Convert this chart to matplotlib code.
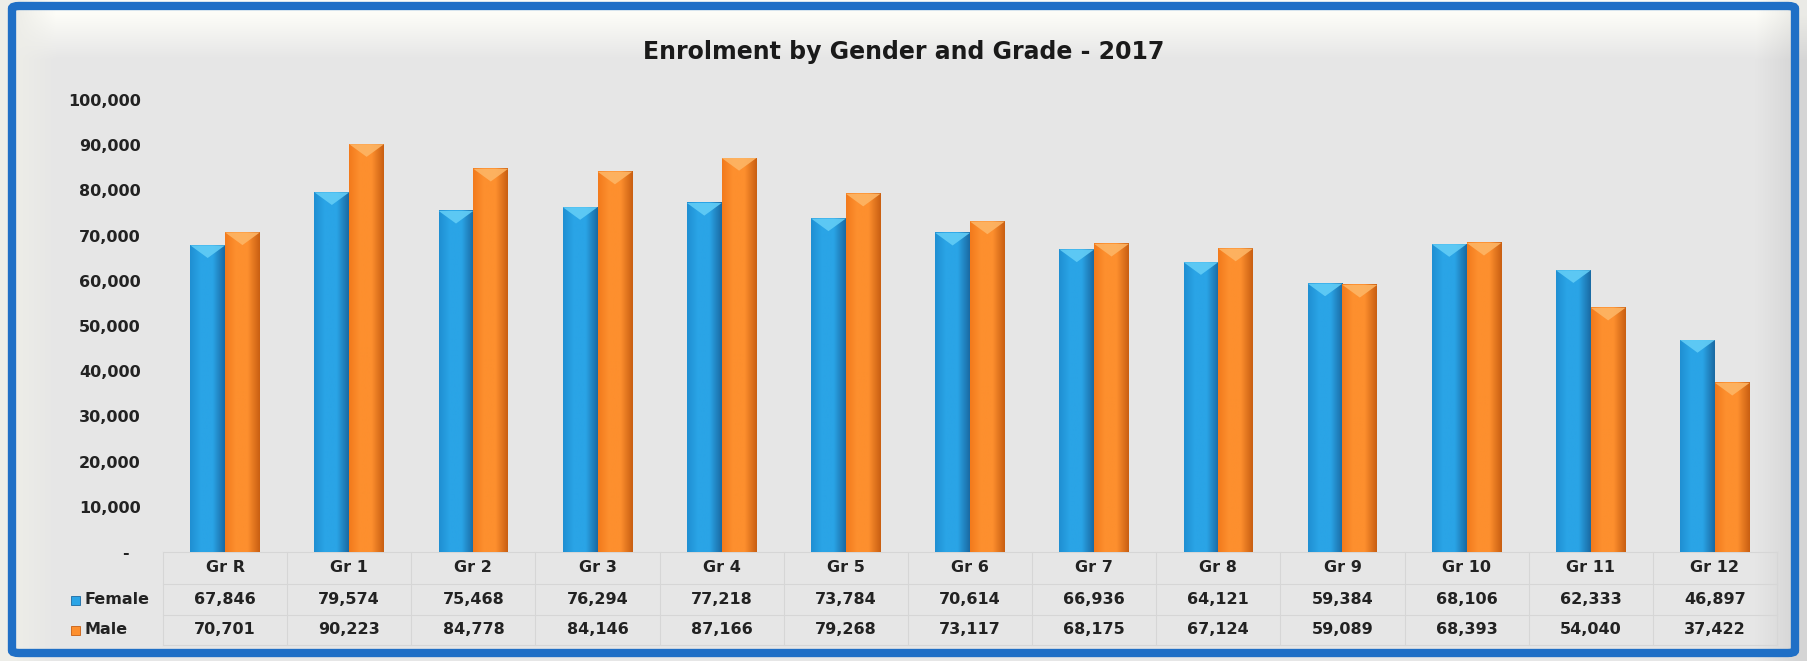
"""Enrolment by gender and grade, 2017: clustered bars with a data table."""

import matplotlib
matplotlib.use("Agg")
import matplotlib.pyplot as plt
import numpy as np
from matplotlib.colors import LinearSegmentedColormap, to_rgb
from matplotlib.patches import FancyBboxPatch, Polygon, Rectangle
from matplotlib.ticker import FuncFormatter

GRADES = ["Gr R", "Gr 1", "Gr 2", "Gr 3", "Gr 4", "Gr 5", "Gr 6",
          "Gr 7", "Gr 8", "Gr 9", "Gr 10", "Gr 11", "Gr 12"]
FEMALE = [67846, 79574, 75468, 76294, 77218, 73784, 70614,
          66936, 64121, 59384, 68106, 62333, 46897]
MALE = [70701, 90223, 84778, 84146, 87166, 79268, 73117,
        68175, 67124, 59089, 68393, 54040, 37422]
SERIES_NAMES = ["Female", "Male"]
TITLE = "Enrolment by Gender and Grade - 2017"

W, H, DPI = 1807, 661, 100
BAR_W = 0.28
FONT = "DejaVu Sans"

# left edge, body, right edge, cap colours for each series
BLUE = ["#1f8fd2", "#2aa4e6", "#1a6aa3", "#62cdf6"]
ORANGE = ["#f27a1c", "#fd8f2e", "#c95f12", "#fdb565"]


def gradient_cmap(colors):
    return LinearSegmentedColormap.from_list(
        "bar", [(0.0, colors[0]), (0.3, colors[1]), (0.65, colors[1]), (1.0, colors[2])])


def background(fig):
    """Light grey panel with a pale top band, inside a rounded blue frame."""
    bg = fig.add_axes([0, 0, 1, 1], zorder=-10)
    bg.set_axis_off()
    grey = np.array(to_rgb("#e6e6e6"))
    img = np.ones((H, W, 3)) * grey
    ys = np.arange(H)
    top = np.clip((ys - 14) / 45.0, 0, 1)[:, None]
    img = img * top[..., None] + (1 - top[..., None]) * np.array([0.99, 0.99, 0.97])
    xs = np.arange(W)
    left = np.clip((xs - 16) / 40.0, 0, 1)[None, :, None]
    img = img * left + (1 - left) * np.array([0.93, 0.93, 0.91])
    right = np.clip((1795 - xs) / 40.0, 0, 1)[None, :, None]
    img = img * (0.93 + 0.07 * right)
    bg.imshow(img, extent=(0, 1, 0, 1), aspect="auto", interpolation="bilinear")
    bg.set_xlim(0, 1)
    bg.set_ylim(0, 1)
    frame = FancyBboxPatch((12 / W, 8 / H), (W - 24) / W, (H - 14) / H,
                           boxstyle="round,pad=0,rounding_size=0.004",
                           transform=bg.transAxes, fill=False,
                           edgecolor="#1f6fc6", linewidth=6)
    bg.add_patch(frame)


def shaded_bars(ax, xs, values, colors):
    bars = ax.bar(xs, values, width=BAR_W, color=colors[1], zorder=2)
    cmap = gradient_cmap(colors)
    grad = np.linspace(0, 1, 64)[None, :]
    cap_depth = 2800
    for rect in bars:
        x0, h = rect.get_x(), rect.get_height()
        x1 = x0 + rect.get_width()
        ax.imshow(grad, cmap=cmap, extent=(x0, x1, 0, h), aspect="auto",
                  interpolation="bilinear", zorder=3)
        cap = Polygon([(x0, h), (x1, h), ((x0 + x1) / 2, h - cap_depth)],
                      closed=True, facecolor=colors[3], edgecolor="none",
                      alpha=0.9, zorder=4)
        ax.add_patch(cap)
    return bars


def main():
    fig = plt.figure(figsize=(W / DPI, H / DPI), dpi=DPI, facecolor="white")
    background(fig)

    ax_left, ax_right = 163, 1777
    ax_bottom, ax_top = 552, 100
    ax = fig.add_axes([ax_left / W, 1 - ax_bottom / H,
                       (ax_right - ax_left) / W, (ax_bottom - ax_top) / H])
    ax.patch.set_alpha(0)
    for side in ax.spines.values():
        side.set_visible(False)

    x = np.arange(len(GRADES))
    shaded_bars(ax, x - BAR_W / 2, FEMALE, BLUE)
    shaded_bars(ax, x + BAR_W / 2, MALE, ORANGE)

    ax.set_xlim(-0.5, len(GRADES) - 0.5)
    ax.set_ylim(0, 100000)
    ax.set_yticks(np.arange(0, 100001, 10000))
    ax.yaxis.set_major_formatter(
        FuncFormatter(lambda v, _: "-  " if v == 0 else f"{int(v):,}"))
    ax.tick_params(axis="y", length=0, pad=16, labelsize=11.5)
    ax.tick_params(axis="x", bottom=False, labelbottom=False)
    for lbl in ax.get_yticklabels():
        lbl.set_fontweight("bold")
        lbl.set_fontfamily(FONT)
        lbl.set_color("#222222")

    # data table under the plot, rows measured in pixels below the axis
    px = 1.0 / (ax_bottom - ax_top)
    row_edges = [0, 32, 63, 93]
    row_mid = [16, 48, 78]
    line_kw = dict(color="#d6d6d6", linewidth=0.8, clip_on=False, zorder=1)
    for r in row_edges:
        ax.plot([-0.5, len(GRADES) - 0.5], [-r * px, -r * px],
                transform=ax.get_xaxis_transform(), **line_kw)
    for b in np.arange(-0.5, len(GRADES), 1.0):
        ax.plot([b, b], [0, -row_edges[-1] * px],
                transform=ax.get_xaxis_transform(), **line_kw)

    text_kw = dict(transform=ax.get_xaxis_transform(), ha="center", va="center",
                   fontsize=11.5, fontweight="bold", family=FONT,
                   color="#222222", clip_on=False)
    for i, grade in enumerate(GRADES):
        ax.text(i, -row_mid[0] * px, grade, **text_kw)
        ax.text(i, -row_mid[1] * px, f"{FEMALE[i]:,}", **text_kw)
        ax.text(i, -row_mid[2] * px, f"{MALE[i]:,}", **text_kw)

    # series keys in the table's left column
    for name, colors, mid in zip(SERIES_NAMES, (BLUE, ORANGE), row_mid[1:]):
        yc = 1 - (ax_bottom + mid) / H
        fig.patches.append(Rectangle((71 / W, yc - 4.5 / H), 9 / W, 9 / H,
                                     transform=fig.transFigure,
                                     facecolor=colors[1], edgecolor=colors[2],
                                     linewidth=0.6))
        fig.text(84 / W, yc, name, ha="left", va="center", fontsize=11.5,
                 fontweight="bold", family=FONT, color="#222222")

    fig.text(0.5, 1 - 52 / H, TITLE, ha="center", va="center", fontsize=17,
             fontweight="bold", family=FONT, color="#1a1a1a")

    fig.savefig("out.png", dpi=DPI, facecolor="white")


if __name__ == "__main__":
    main()
